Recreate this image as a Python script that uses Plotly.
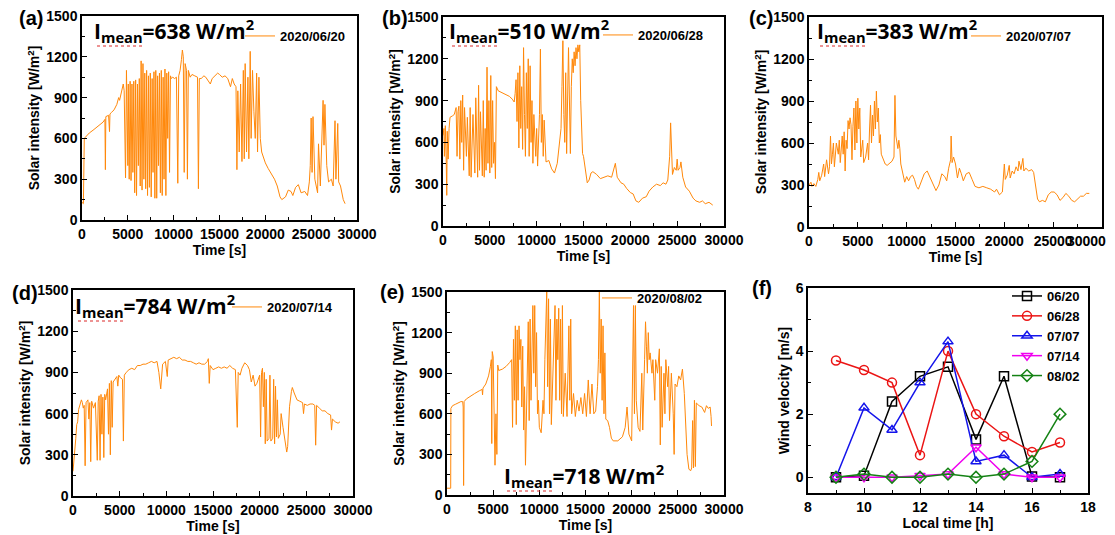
import plotly.graph_objects as go

W, H = 1115, 535

# solar intensity readings, (time [s], intensity [W/m2])
sun_0620 = [(0,130),(150,120),(250,600),(500,620),(800,640),(1200,660),(1600,680),(2000,700),(2300,720),(2500,740),(2550,370),(2600,760),(2900,770),(3000,650),(3050,780),(3200,790),(3500,810),(3800,850),(4000,900),(4100,880),(4300,940),(4500,1000),(4600,950),(4750,310),(4850,1100),(5000,400),(5050,1000),(5150,300),(5250,1020),(5350,290),(5450,1000),(5550,350),(5650,1020),(5750,200),(5850,1030),(5950,180),(6050,1000),(6150,400),(6250,1040),(6350,250),(6450,1170),(6550,220),(6650,1150),(6750,300),(6850,1080),(6950,230),(7050,1100),(7150,180),(7250,1060),(7350,240),(7450,1080),(7550,170),(7650,1040),(7750,350),(7850,1090),(7950,160),(8050,1100),(8150,160),(8250,1060),(8350,400),(8450,1080),(8550,200),(8650,1100),(8750,180),(8850,1050),(8950,300),(9050,1110),(9150,180),(9250,1080),(9350,600),(9450,1090),(9550,350),(9650,1060),(9750,1040),(9900,1050),(10100,1040),(10300,1050),(10450,270),(10550,1060),(10700,1100),(10850,1180),(10950,1250),(11050,1200),(11150,350),(11250,1150),(11400,1100),(11500,300),(11600,1100),(11800,1050),(12000,1070),(12300,1060),(12600,1050),(12700,230),(12800,1040),(13000,1040),(13300,1060),(13500,1050),(13800,1020),(14000,1000),(14200,1040),(14500,1060),(14800,1080),(15000,1070),(15300,1050),(15600,1060),(15900,1040),(16200,980),(16400,1040),(16600,1000),(16800,980),(16900,370),(17000,950),(17150,500),(17300,1000),(17450,430),(17600,1100),(17700,450),(17800,1150),(17950,500),(18100,1050),(18200,450),(18350,1240),(18450,600),(18600,1100),(18750,800),(18900,600),(19050,1080),(19150,500),(19300,1050),(19450,600),(19600,500),(19800,450),(20000,420),(20300,380),(20700,330),(21000,300),(21300,250),(21600,170),(21800,150),(22200,170),(22500,220),(22800,210),(23000,180),(23300,240),(23600,260),(23900,200),(24300,210),(24600,180),(24800,280),(24900,400),(25000,750),(25100,350),(25200,760),(25400,300),(25700,200),(25800,560),(26000,250),(26200,800),(26300,880),(26400,550),(26500,850),(26700,400),(26900,280),(27200,300),(27400,250),(27600,730),(27700,300),(27900,710),(28000,280),(28200,250),(28500,150),(28700,120)]

sun_0628 = [(0,650),(100,700),(150,500),(250,720),(350,450),(400,220),(450,680),(550,480),(650,700),(750,780),(1000,790),(1200,800),(1400,850),(1500,500),(1600,820),(1700,860),(1800,480),(1900,900),(2000,600),(2100,940),(2200,400),(2300,850),(2500,500),(2600,780),(2800,360),(2900,850),(3000,350),(3200,800),(3400,380),(3500,920),(3700,350),(3800,1010),(3900,400),(4000,820),(4200,360),(4300,900),(4400,350),(4500,700),(4600,400),(4700,1140),(4800,450),(4900,900),(5000,380),(5100,1080),(5200,420),(5300,900),(5400,450),(5500,600),(5600,340),(5700,1000),(5900,970),(6200,960),(6500,950),(6800,940),(7100,930),(7400,910),(7600,890),(7700,950),(7800,1050),(7900,750),(8000,1100),(8100,560),(8200,1150),(8300,700),(8400,1000),(8500,550),(8600,1280),(8700,800),(8800,500),(8900,1100),(9000,700),(9100,1200),(9200,500),(9300,1150),(9400,600),(9500,900),(9600,450),(9700,800),(9800,600),(9900,500),(10000,700),(10100,430),(10300,800),(10400,1270),(10500,600),(10600,800),(10700,500),(10800,760),(11000,460),(11300,470),(11600,410),(11900,380),(12200,450),(12400,600),(12600,700),(12700,1000),(12800,1330),(12900,800),(13000,600),(13100,1100),(13200,520),(13400,1280),(13500,700),(13600,520),(13700,1000),(13800,1200),(13900,1100),(14000,1250),(14100,1150),(14200,1280),(14300,1200),(14400,1300),(14500,1250),(14600,1300),(14700,900),(14800,600),(14900,520),(15000,500),(15200,400),(15400,310),(15600,330),(15800,380),(16000,390),(16400,370),(16800,340),(17200,350),(17600,360),(18000,350),(18200,400),(18400,450),(18600,350),(19000,310),(19300,300),(19600,270),(20000,240),(20300,230),(20600,180),(20900,170),(21300,200),(21700,210),(22000,250),(22400,280),(22800,300),(23200,290),(23500,310),(23800,300),(24000,330),(24200,500),(24300,740),(24400,550),(24500,370),(24700,420),(24900,400),(25000,480),(25100,400),(25300,420),(25400,460),(25600,350),(25900,280),(26300,250),(26700,200),(27000,180),(27400,170),(27700,180),(28000,160),(28400,170),(28800,150)]

sun_0707 = [(0,300),(200,320),(300,290),(500,310),(700,290),(900,340),(1000,390),(1100,330),(1300,370),(1500,450),(1600,360),(1800,480),(2000,380),(2100,430),(2200,650),(2300,450),(2400,520),(2500,600),(2600,430),(2800,600),(3000,520),(3100,620),(3200,460),(3400,650),(3500,520),(3600,680),(3700,400),(3800,620),(3900,560),(4000,760),(4100,700),(4200,780),(4300,730),(4400,480),(4500,720),(4600,850),(4700,550),(4800,900),(4900,600),(5000,920),(5100,700),(5200,850),(5300,500),(5400,550),(5500,620),(5600,460),(5800,500),(6000,600),(6100,480),(6200,700),(6300,870),(6400,600),(6500,800),(6600,650),(6700,900),(6800,700),(6900,970),(7000,750),(7100,850),(7200,600),(7300,660),(7400,520),(7600,480),(7800,450),(8000,440),(8300,460),(8500,470),(8700,500),(8800,940),(8900,650),(9000,600),(9100,560),(9200,620),(9300,560),(9400,450),(9600,380),(9800,320),(10000,360),(10200,330),(10400,360),(10600,370),(10800,340),(11000,290),(11200,270),(11500,320),(11800,380),(12100,400),(12400,350),(12700,300),(13000,260),(13300,300),(13600,380),(13900,360),(14100,330),(14300,420),(14500,480),(14550,650),(14650,460),(14800,500),(15000,450),(15200,350),(15400,420),(15600,380),(15800,330),(16100,380),(16400,390),(16700,340),(17000,290),(17400,280),(17800,290),(18200,280),(18600,270),(19000,250),(19200,270),(19500,230),(19800,250),(20000,450),(20100,340),(20300,370),(20500,440),(20600,350),(20800,400),(21000,380),(21200,430),(21400,400),(21500,470),(21700,410),(21900,490),(22000,400),(22200,420),(22500,400),(22800,410),(23000,390),(23200,300),(23400,200),(23600,180),(23900,190),(24200,180),(24500,230),(24800,250),(25100,250),(25400,230),(25700,190),(26000,210),(26300,240),(26600,220),(26900,190),(27200,180),(27500,200),(27800,220),(28100,220),(28400,240),(28700,240)]

sun_0714 = [(0,180),(100,250),(200,320),(300,420),(400,520),(500,540),(600,630),(700,650),(900,700),(1000,680),(1100,640),(1200,660),(1300,220),(1400,680),(1600,700),(1700,560),(1800,680),(1900,250),(2000,690),(2200,640),(2400,680),(2600,260),(2700,690),(2800,730),(2900,260),(3000,740),(3100,450),(3200,720),(3300,280),(3400,740),(3500,700),(3700,780),(3800,450),(3900,820),(4000,300),(4100,840),(4200,500),(4300,830),(4500,850),(4700,870),(4800,800),(4900,880),(5100,860),(5300,850),(5400,400),(5500,880),(5700,900),(6000,920),(6300,930),(6600,920),(6900,950),(7200,950),(7500,960),(7800,960),(8100,970),(8400,980),(8700,970),(9000,980),(9200,900),(9400,780),(9600,960),(9900,980),(10100,870),(10200,990),(10500,1000),(10800,1010),(11100,1000),(11400,1010),(11700,990),(12000,990),(12300,980),(12600,980),(12900,970),(13200,960),(13500,970),(13800,960),(14100,960),(14400,980),(14500,1000),(14600,820),(14700,950),(15000,920),(15300,930),(15600,940),(15900,930),(16200,940),(16500,930),(16800,950),(17100,930),(17400,920),(17600,500),(17700,900),(17900,880),(18100,930),(18400,970),(18700,950),(18900,920),(19100,830),(19300,880),(19500,800),(19700,820),(20000,880),(20100,430),(20200,900),(20300,930),(20400,650),(20500,900),(20600,380),(20700,850),(20800,400),(21000,420),(21100,880),(21200,400),(21400,420),(21500,850),(21600,380),(21700,800),(21800,430),(21900,700),(22000,420),(22200,450),(22300,600),(22500,500),(22700,420),(22900,320),(23000,360),(23200,650),(23400,760),(23500,790),(23700,750),(24000,700),(24300,690),(24600,680),(24700,600),(24800,670),(25100,660),(25400,670),(25700,670),(25900,660),(26000,370),(26100,660),(26400,640),(26700,620),(27000,620),(27300,600),(27600,590),(27700,480),(27800,560),(28100,540),(28400,530),(28600,540)]

sun_0802 = [(0,50),(250,50),(400,50),(420,640),(600,660),(900,670),(1200,680),(1500,690),(1700,690),(1750,650),(1800,70),(1850,690),(2100,710),(2500,730),(3000,750),(3500,770),(3800,780),(3850,740),(3900,790),(4200,820),(4500,880),(4700,950),(4800,1000),(4850,380),(4900,1060),(5000,1020),(5100,650),(5200,220),(5300,600),(5400,300),(5500,960),(5600,920),(6000,930),(6400,950),(6800,980),(7000,1000),(7100,500),(7200,1150),(7300,700),(7400,1250),(7500,520),(7600,1220),(7700,700),(7800,1250),(7900,1000),(8000,1150),(8100,650),(8200,1100),(8300,480),(8400,800),(8500,220),(8600,600),(8700,1100),(8800,1280),(8900,550),(9000,1300),(9100,700),(9200,1150),(9300,1400),(9400,900),(9500,1400),(9600,800),(9700,1200),(9800,600),(9900,700),(10000,500),(10200,460),(10400,700),(10500,600),(10600,1000),(10700,1300),(10800,1500),(10900,800),(11000,1450),(11100,600),(11200,1300),(11300,520),(11500,900),(11700,1400),(11800,700),(11900,1300),(12000,1000),(12100,1380),(12200,700),(12300,1300),(12400,600),(12500,1400),(12600,580),(12800,900),(13000,580),(13200,1250),(13300,700),(13400,1300),(13500,600),(13700,750),(13900,580),(14100,700),(14300,620),(14500,720),(14700,600),(14900,750),(15100,580),(15300,850),(15500,600),(15700,820),(15900,600),(16100,620),(16300,800),(16400,1000),(16500,1500),(16600,900),(16700,1300),(16800,700),(16900,1250),(17000,600),(17100,1050),(17200,560),(17400,550),(17600,500),(17800,420),(18000,400),(18500,400),(19000,430),(19300,500),(19500,650),(19700,450),(20000,400),(20200,1400),(20300,600),(20400,1400),(20500,700),(20700,500),(20900,470),(21100,900),(21200,480),(21400,1000),(21500,1280),(21600,1100),(21700,900),(21800,1200),(21900,1000),(22000,1050),(22200,900),(22300,1000),(22500,700),(22600,1000),(22800,900),(23000,1080),(23100,370),(23200,950),(23300,500),(23500,900),(23600,600),(23700,1000),(23900,800),(24000,950),(24100,550),(24300,900),(24500,600),(24600,300),(24700,820),(24900,800),(25100,880),(25300,850),(25500,930),(25700,750),(25900,500),(26000,300),(26200,190),(26400,180),(26500,200),(26600,550),(26700,200),(26800,700),(26900,210),(27000,680),(27300,660),(27600,650),(27900,610),(28100,660),(28300,640),(28500,650),(28600,580),(28650,510)]

dates = ["2020/06/20", "2020/06/28", "2020/07/07", "2020/07/14", "2020/08/02"]
i_mean = [638, 510, 383, 784, 718]
panel_tags = ["(a)", "(b)", "(c)", "(d)", "(e)", "(f)"]
time_ticks = [0, 5000, 10000, 15000, 20000, 25000, 30000]

# wind velocity, panel (f)
hours = [9, 10, 11, 12, 13, 14, 15, 16, 17]
wind_labels = ["06/20", "06/28", "07/07", "07/14", "08/02"]
wind_0620 = [0, 0.05, 2.4, 3.2, 3.5, 1.2, 3.2, 0.02, 0]
wind_0628 = [3.7, 3.4, 3.0, 0.7, 4.0, 2.0, 1.3, 0.8, 1.1]
wind_0707 = [0, 2.2, 1.5, 3.0, 4.3, 0.5, 0.7, 0.0, 0.1]
wind_0714 = [0, 0, 0, 0.05, 0.1, 0.95, 0.1, 0, 0]
wind_0802 = [0, 0.1, 0, 0, 0.1, 0, 0.1, 0.5, 2.0]

# plot areas in pixels: (left, right, top, bottom)
boxes = [(82, 357, 16, 220), (443, 724, 17, 226), (809, 1102, 17, 227),
         (73, 353, 290, 496), (447, 724, 292, 495), (808, 1088, 288, 493)]


def px(x):
    return x / W


def py(y):
    return 1 - y / H


ORANGE = "rgb(255,136,10)"
FONT = "Liberation Sans"

fig = go.Figure()

axis_style = dict(showline=True, linecolor="black", linewidth=1.5, mirror=True,
                  ticks="inside", ticklen=5, tickwidth=1.3, tickcolor="black",
                  showgrid=False, zeroline=False, automargin=False, tickformat="d",
                  ticklabeloverflow="allow", tickangle=0,
                  tickfont=dict(family=FONT, size=14, color="black", weight="bold"),
                  minor=dict(ticks="inside", ticklen=3, tickwidth=1, tickcolor="black"))

series = [sun_0620, sun_0628, sun_0707, sun_0714, sun_0802]
for k, pts in enumerate(series):
    n = "" if k == 0 else str(k + 1)
    t = [p[0] for p in pts]
    v = [p[1] for p in pts]
    fig.add_trace(go.Scatter(x=t, y=v, mode="lines", name=dates[k], showlegend=True,
                             line=dict(color=ORANGE, width=1),
                             xaxis="x" + n, yaxis="y" + n, legend="legend" + n))

wind = [wind_0620, wind_0628, wind_0707, wind_0714, wind_0802]
wcolors = ["black", "rgb(235,20,20)", "rgb(20,20,235)", "rgb(240,0,240)", "rgb(20,130,20)"]
wsym = ["square-open", "circle-open", "triangle-up-open", "triangle-down-open", "diamond-open"]
for k in range(5):
    fig.add_trace(go.Scatter(x=hours, y=wind[k], mode="lines+markers", name=wind_labels[k],
                             showlegend=True,
                             line=dict(color=wcolors[k], width=1.5),
                             marker=dict(symbol=wsym[k], size=9, color=wcolors[k],
                                         line=dict(width=1.5, color=wcolors[k])),
                             xaxis="x6", yaxis="y6", legend="legend6"))

layout = dict(width=W, height=H, margin=dict(l=0, r=0, t=0, b=0), showlegend=True,
              paper_bgcolor="white", plot_bgcolor="white", font=dict(family=FONT, color="black"))

for k, (l, r, t, b) in enumerate(boxes):
    n = "" if k == 0 else str(k + 1)
    xa = dict(axis_style, domain=[px(l), px(r)], anchor="y" + n)
    ya = dict(axis_style, domain=[py(b), py(t)], anchor="x" + n)
    if k < 5:
        labels = [str(v) for v in time_ticks]
        if k == 2:
            # last label of (c) sits left of its tick so it stays inside the page
            labels[-1] = labels[-1] + "\u00a0" * 8
        xa.update(range=[0, 30000], tickvals=time_ticks, ticktext=labels,
                  minor=dict(axis_style["minor"], dtick=2500))
        ya.update(range=[0, 1500], tickvals=[0, 300, 600, 900, 1200, 1500],
                  minor=dict(axis_style["minor"], dtick=150))
        xa["title"] = dict(text="Time [s]", standoff=1,
                           font=dict(family=FONT, size=14, weight="bold"))
        ya["title"] = dict(text="Solar intensity [W/m<sup>2</sup>]", standoff=3,
                           font=dict(family=FONT, size=14, weight="bold"))
    else:
        xa.update(range=[8, 18], dtick=2, minor=dict(axis_style["minor"], dtick=1))
        ya.update(range=[-0.5, 6], tickvals=[0, 2, 4, 6], minor=dict(axis_style["minor"], dtick=1))
        xa["title"] = dict(text="Local time [h]", standoff=1,
                           font=dict(family=FONT, size=14, weight="bold"))
        ya["title"] = dict(text="Wind velocity [m/s]", standoff=3,
                           font=dict(family=FONT, size=14, weight="bold"))
    layout["xaxis" + n] = xa
    layout["yaxis" + n] = ya

# legends: left edge and vertical centre in pixels
leg_pos = [(240, 36), (598, 35), (966, 36), (227, 307), (597, 298)]
for k, (lx, ly) in enumerate(leg_pos):
    n = "" if k == 0 else str(k + 1)
    layout["legend" + n] = dict(x=px(lx), y=py(ly), xanchor="left", yanchor="middle",
                                bgcolor="rgba(0,0,0,0)",
                                font=dict(family=FONT, size=13, weight="bold", color="black"))
layout["legend6"] = dict(x=px(1007), y=py(336), xanchor="left", yanchor="middle",
                         bgcolor="rgba(0,0,0,0)",
                         font=dict(family=FONT, size=13, weight="bold", color="black"))

fig.update_layout(**layout)

# I_mean captions: left x, centre y in pixels
mean_pos = [(92, 30), (447, 30), (815, 30), (73, 305), (502, 475)]
for k, (mx, my) in enumerate(mean_pos):
    fig.add_annotation(x=px(mx), y=py(my), xref="paper", yref="paper", xanchor="left",
                       yanchor="middle", showarrow=False,
                       text="I<sub>mean</sub>=%d W/m<sup>2</sup>" % i_mean[k],
                       font=dict(family="Open Sans", size=21, weight="bold", color="black"))
    # red spell-check squiggle under "mean"
    fig.add_shape(type="line", xref="paper", yref="paper",
                  x0=px(mx + 5), x1=px(mx + 51), y0=py(my + 16), y1=py(my + 16),
                  line=dict(color="rgb(220,40,40)", width=1.2, dash="dot"))

tag_pos = [(17, 18), (380, 18), (747, 18), (10, 293), (378, 292), (750, 288)]
for k, (tx, ty) in enumerate(tag_pos):
    fig.add_annotation(x=px(tx), y=py(ty), xref="paper", yref="paper", xanchor="left",
                       yanchor="middle", showarrow=False, text=panel_tags[k],
                       font=dict(family=FONT, size=20, weight="bold", color="black"))

# the page body has an 8px default margin; drop it so the figure sits at (0, 0)
fig.write_html("out.html", config={"displayModeBar": False},
               post_script="document.body.style.margin='0';document.body.style.overflow='hidden';")
